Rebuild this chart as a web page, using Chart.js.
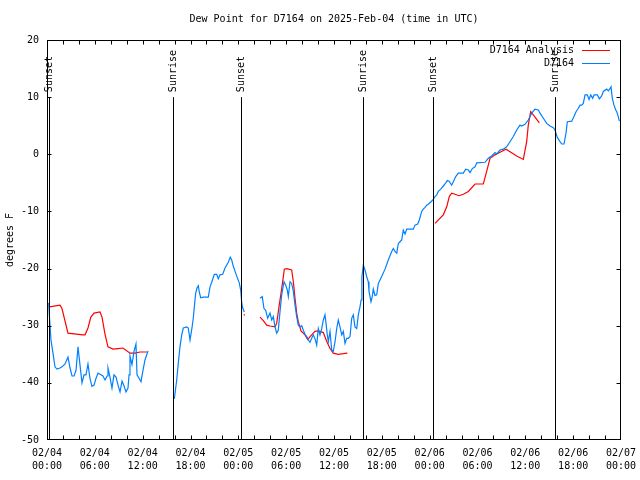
<!DOCTYPE html>
<html>
<head>
<meta charset="utf-8">
<script src="https://cdn.jsdelivr.net/npm/chart.js@4/dist/chart.umd.min.js"></script>
<style>
  html, body { margin: 0; padding: 0; background: #fff; }
  canvas { display: block; }
</style>
</head>
<body>
<canvas id="c" width="640" height="480"></canvas>
<script>
// ---- data (hours since 02/04 00:00 UTC, dew point in °F) ----
const chartTitle = 'Dew Point for D7164 on 2025-Feb-04 (time in UTC)';
const yAxisLabel = 'degrees F';
const seriesNames = ['D7164 Analysis', 'D7164'];
const seriesColors = ['#ff0000', '#0080ff'];

const xTickHours = [0, 6, 12, 18, 24, 30, 36, 42, 48, 54, 60, 66, 72];
const xTickDates = ['02/04','02/04','02/04','02/04','02/05','02/05','02/05','02/05','02/06','02/06','02/06','02/06','02/07'];
const xTickTimes = ['00:00','06:00','12:00','18:00','00:00','06:00','12:00','18:00','00:00','06:00','12:00','18:00','00:00'];
const yTickValues = [-50, -40, -30, -20, -10, 0, 10, 20];

const sunHours  = [0.29, 15.76, 24.38, 39.68, 48.46, 63.76];
const sunLabels = ['Sunset', 'Sunrise', 'Sunset', 'Sunrise', 'Sunset', 'Sunrise'];
const sunLineTop = 10;

const blueHours = [
  0.21,0.31,0.5,0.75,1.0,1.25,1.63,1.88,2.26,2.63,2.89,3.14,3.39,3.64,3.89,4.14,4.39,4.64,4.89,5.14,
  5.39,5.64,5.9,6.15,6.4,6.65,7.02,7.28,7.53,7.65,7.9,8.15,8.4,8.66,8.91,9.16,9.41,9.66,9.91,10.16,
  10.29,10.41,10.66,10.91,11.16,11.29,11.54,11.79,12.04,12.29,12.67,
  14.0,
  15.97,16.27,16.47,16.68,16.9,17.1,17.52,17.72,17.94,18.15,18.35,18.48,18.65,18.82,18.98,19.1,19.28,19.6,
  20.23,20.45,20.66,20.99,21.29,21.49,21.7,22.04,22.33,22.74,22.99,23.17,23.37,23.67,23.92,24.12,24.3,24.42,24.55,24.75,
  25.5,
  26.72,27.0,27.22,27.43,27.68,27.97,28.19,28.39,28.6,28.81,29.01,29.23,29.44,29.73,29.94,30.14,30.27,30.48,30.69,30.9,
  31.11,31.32,31.52,31.74,31.95,32.15,32.36,32.58,32.78,32.99,33.2,33.4,33.62,33.83,34.03,34.24,34.46,34.66,34.87,35.0,
  35.16,35.29,35.5,35.71,35.91,36.13,36.34,36.54,36.75,36.97,37.17,37.38,37.59,37.8,38.01,38.22,38.42,38.63,38.85,39.05,
  39.26,39.4,39.5,39.68,39.89,40.1,40.3,40.39,40.64,40.8,40.93,41.14,41.36,41.56,41.98,42.4,42.81,43.24,43.44,43.65,
  43.87,44.07,44.28,44.49,44.69,44.91,45.12,45.53,45.95,46.16,46.5,46.7,47.0,47.2,47.42,47.63,47.83,48.17,48.46,48.67,
  48.88,49.08,49.39,49.71,49.92,50.21,50.43,50.76,50.97,51.27,51.59,52.22,52.52,52.85,53.06,53.35,53.69,53.9,54.94,55.36,
  55.78,56.2,56.41,56.82,57.24,57.66,58.08,58.49,58.92,59.33,59.54,59.96,60.37,60.59,60.8,61.21,61.63,61.84,62.26,62.68,
  63.1,63.51,63.72,64.01,64.35,64.56,64.85,65.1,65.27,65.82,66.1,66.36,66.65,66.86,67.07,67.27,67.49,67.77,67.99,68.2,
  68.45,68.62,69.03,69.28,69.58,69.78,70.21,70.41,70.62,70.75,70.91,71.12,71.34,71.47,71.66,71.79
];
const blueDew = [
  -26.0,-28.5,-32.5,-34.8,-37.2,-37.6,-37.4,-37.2,-36.7,-35.5,-37.4,-38.8,-38.8,-37.8,-33.7,-36.9,-40.0,-38.6,-38.6,-36.7,
  -39.2,-40.6,-40.4,-39.2,-38.3,-38.5,-38.8,-39.5,-38.8,-37.4,-39.0,-40.9,-38.6,-39.0,-40.4,-41.6,-39.7,-40.5,-41.6,-40.9,
  -38.6,-35.3,-36.8,-34.5,-33.2,-38.6,-39.2,-39.8,-37.8,-36.0,-34.4,
  null,
  -42.8,-39.5,-36.5,-33.7,-31.6,-30.4,-30.2,-30.4,-32.5,-30.7,-28.7,-26.7,-24.3,-23.4,-23.0,-24.1,-25.1,-25.0,
  -25.0,-23.2,-22.4,-21.0,-21.0,-21.8,-21.1,-21.0,-19.9,-18.9,-18.0,-18.5,-19.6,-20.8,-21.8,-22.5,-23.8,-25.9,-26.9,-27.6,
  null,
  -25.2,-24.9,-27.0,-27.3,-28.7,-27.8,-29.0,-28.4,-30.2,-31.3,-30.8,-27.5,-24.6,-22.3,-22.9,-23.75,-24.9,-22.3,-22.6,-24.0,
  -26.4,-28.4,-29.9,-30.2,-30.0,-30.8,-31.5,-31.9,-32.5,-32.9,-32.2,-31.6,-32.3,-33.4,-30.5,-31.6,-30.5,-29.0,-28.1,-29.6,
  -31.6,-32.8,-31.0,-34.25,-34.5,-32.8,-30.5,-29.0,-30.2,-31.6,-31.0,-33.1,-32.2,-32.2,-31.9,-28.7,-28.1,-30.2,-30.5,-28.1,
  -26.7,-25.5,-21.4,-19.4,-20.25,-21.4,-22.3,-24.0,-25.8,-24.9,-23.6,-24.7,-24.6,-22.6,-21.4,-20.1,-18.5,-17.0,-16.5,-17.0,
  -17.3,-15.6,-15.3,-15.0,-13.25,-13.95,-13.1,-13.1,-13.1,-12.4,-12.2,-11.5,-10.0,-9.6,-9.3,-8.9,-8.75,-8.3,-7.9,-7.4,
  -7.1,-6.5,-6.1,-5.55,-5.2,-4.6,-4.7,-5.4,-4.8,-3.9,-3.3,-3.3,-2.6,-2.75,-3.2,-2.5,-2.2,-1.5,-1.4,-0.7,
  -0.3,0.3,0.05,0.75,0.9,1.3,2.2,3.1,4.25,5.1,4.95,5.25,6.0,6.6,7.2,7.9,7.75,7.2,6.3,5.4,
  4.95,4.65,4.25,2.95,2.2,1.8,1.8,3.7,5.7,5.8,6.6,7.45,8.05,8.6,8.6,8.9,10.4,10.4,9.6,10.4,
  9.8,10.4,10.4,9.7,10.2,11.0,11.4,11.1,11.5,11.8,9.8,8.6,7.75,7.45,6.6,5.8
];

const redHours = [
  0.29,1.63,1.88,2.63,4.5,4.77,5.14,5.5,5.9,6.65,6.9,7.28,7.65,8.28,8.9,9.53,10.41,11.04,11.67,12.54,
  14.0,
  24.7,24.8,
  25.5,
  26.72,27.13,27.56,27.97,28.6,28.81,29.1,29.44,29.77,30.07,30.69,30.9,31.11,31.32,31.52,31.86,32.36,32.7,33.2,33.62,
  34.03,34.66,35.08,35.5,35.91,36.54,37.17,37.67,
  42.0,
  48.67,49.71,50.14,50.46,50.76,51.18,51.68,52.22,52.85,53.69,54.73,55.15,55.57,56.2,56.82,57.58,58.08,58.92,59.75,60.17,
  60.37,60.67,61.0,61.43,61.75
];
const redDew = [
  -26.7,-26.4,-27.0,-31.3,-31.6,-31.6,-30.4,-28.5,-27.8,-27.6,-28.5,-31.5,-33.7,-34.1,-34.0,-33.9,-34.8,-34.8,-34.6,-34.6,
  null,
  -28.0,-28.2,
  null,
  -28.5,-29.1,-29.9,-30.05,-30.2,-29.6,-26.7,-23.5,-20.1,-20.0,-20.25,-22.3,-25.2,-27.8,-29.3,-30.9,-31.6,-32.4,-31.6,-31.0,
  -30.9,-31.2,-32.7,-34.0,-34.8,-35.0,-34.9,-34.8,
  null,
  -12.1,-10.6,-9.2,-7.4,-6.8,-7.0,-7.25,-7.0,-6.5,-5.2,-5.2,-3.0,-0.7,-0.1,0.35,0.9,0.45,-0.3,-0.9,2.2,
  5.1,7.45,6.9,6.1,5.5
];

// ---- build ----
const FONT = '"DejaVu Sans Mono", "Liberation Mono", monospace';
const toPoints = (hs, vs) => hs.map((h, i) => ({ x: h, y: vs[i] }));

const decor = {
  id: 'decor',
  afterDatasetsDraw(chart) {
    const { ctx, scales: { x, y } } = chart;
    ctx.save();
    ctx.strokeStyle = '#000';
    ctx.lineWidth = 1;
    const yTop = y.getPixelForValue(sunLineTop);
    const yBot = y.getPixelForValue(-50);
    sunHours.forEach((h, i) => {
      const px = Math.round(x.getPixelForValue(h)) + 0.5;
      ctx.beginPath(); ctx.moveTo(px, yTop); ctx.lineTo(px, yBot); ctx.stroke();
      ctx.save();
      ctx.translate(px, yTop - 5);
      ctx.rotate(-Math.PI / 2);
      ctx.fillStyle = '#000';
      ctx.font = '10px ' + FONT;
      ctx.textAlign = 'left';
      ctx.textBaseline = 'middle';
      ctx.fillText(sunLabels[i], 0, 0);
      ctx.restore();
    });
    ctx.restore();
  },
  afterDraw(chart) {
    const { ctx, chartArea: a, scales: { x, y } } = chart;
    ctx.save();
    ctx.strokeStyle = '#000';
    ctx.lineWidth = 1;
    const L = Math.round(a.left) + 0.5, R = Math.round(a.right) - 0.5;
    const T = Math.round(a.top) + 0.5, B = Math.round(a.bottom) - 0.5;
    ctx.strokeRect(L, T, R - L, B - T);
    for (let h = 0; h <= 72; h += 2) {
      const px = Math.min(Math.round(x.getPixelForValue(h)) + 0.5, R);
      ctx.beginPath();
      ctx.moveTo(px, B); ctx.lineTo(px, B - 4);
      ctx.moveTo(px, T); ctx.lineTo(px, T + 4);
      ctx.stroke();
    }
    yTickValues.forEach(v => {
      const py = Math.min(Math.round(y.getPixelForValue(v)) + 0.5, B);
      ctx.beginPath();
      ctx.moveTo(L, py); ctx.lineTo(L + 4, py);
      ctx.moveTo(R, py); ctx.lineTo(R - 4, py);
      ctx.stroke();
    });
    ctx.fillStyle = '#000';
    ctx.font = '10px ' + FONT;
    ctx.textAlign = 'center';
    ctx.textBaseline = 'middle';
    ctx.fillText(chartTitle, (a.left + a.right) / 2, 19);
    ctx.save();
    ctx.translate(10, (a.top + a.bottom) / 2);
    ctx.rotate(-Math.PI / 2);
    ctx.fillText(yAxisLabel, 0, 0);
    ctx.restore();
    ctx.textAlign = 'right';
    chart.data.datasets.forEach((ds, i) => {
      const ly = 50 + i * 13;
      ctx.fillStyle = '#000';
      ctx.fillText(ds.label, 574, ly);
      ctx.strokeStyle = ds.borderColor;
      ctx.beginPath();
      ctx.moveTo(582, ly + 0.5); ctx.lineTo(610, ly + 0.5);
      ctx.stroke();
    });
    ctx.restore();
  }
};

new Chart(document.getElementById('c'), {
  type: 'line',
  data: {
    datasets: [
      { label: seriesNames[0], data: toPoints(redHours, redDew), borderColor: seriesColors[0],
        borderWidth: 1.2, pointRadius: 0, fill: false, spanGaps: false, tension: 0, order: 2 },
      { label: seriesNames[1], data: toPoints(blueHours, blueDew), borderColor: seriesColors[1],
        borderWidth: 1.2, pointRadius: 0, fill: false, spanGaps: false, tension: 0, order: 1 }
    ]
  },
  options: {
    responsive: false,
    animation: false,
    events: [],
    layout: { padding: { top: 40, right: 19, left: 0, bottom: 0 } },
    plugins: { legend: { display: false }, title: { display: false }, tooltip: { enabled: false } },
    scales: {
      x: {
        type: 'linear', min: 0, max: 72,
        afterFit(s) { s.height = 40; s.paddingLeft = 0; s.paddingRight = 0; },
        grid: { display: false, drawTicks: false }, border: { display: false },
        ticks: {
          stepSize: 2, autoSkip: false, maxRotation: 0, minRotation: 0, padding: 7,
          color: '#000', font: { family: FONT, size: 10, lineHeight: 1.3 },
          callback(v) {
            const i = xTickHours.indexOf(v);
            return i >= 0 ? [xTickDates[i], xTickTimes[i]] : '';
          }
        }
      },
      y: {
        min: -50, max: 20,
        afterFit(s) { s.width = 47; s.paddingTop = 0; s.paddingBottom = 0; },
        grid: { display: false, drawTicks: false }, border: { display: false },
        ticks: { stepSize: 10, padding: 8, color: '#000', font: { family: FONT, size: 10 } }
      }
    }
  },
  plugins: [decor]
});
</script>
</body>
</html>
